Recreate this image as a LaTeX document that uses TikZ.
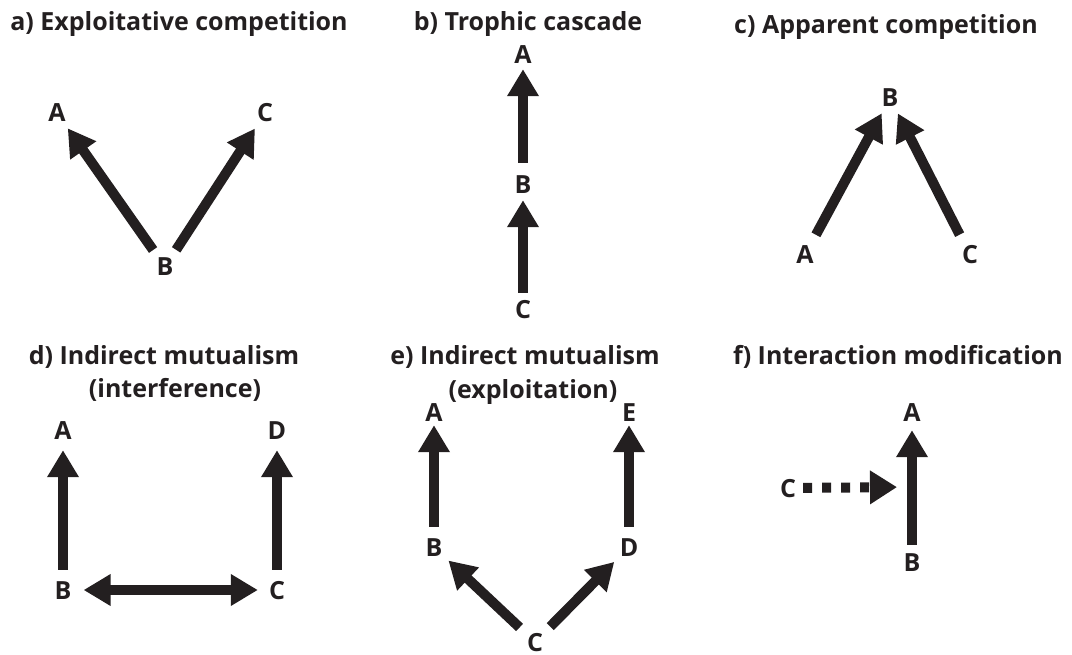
\documentclass[tikz,border=0pt]{standalone}
\usepackage{fontspec}
\setmainfont{Open Sans}
\usetikzlibrary{arrows.meta,calc}
\definecolor{ink}{RGB}{35,31,32}

\begin{document}
\begin{tikzpicture}[x=1pt, y=-1pt,
	every node/.style={text=ink, font=\bfseries\fontsize{25}{29}\selectfont},
	heading/.style={anchor=base},
	species/.style={inner sep=0pt, text height=18pt, text depth=0pt},
	eff/.style={draw=ink, line width=10pt, -{Triangle[length=27pt,width=30pt]}},
	twoway/.style={draw=ink, line width=10pt, {Triangle[length=27pt,width=30pt]}-{Triangle[length=27pt,width=30pt]}},
	modarrow/.style={draw=ink, line width=10pt, dash pattern=on 9pt off 10pt, -{Triangle[length=27pt,width=32pt]}}]

		\useasboundingbox (0,0) rectangle (1072,655);

		\node[heading] (T1) at (179,31) {a) Exploitative competition};
		\node[species] (A1) at (57,113) {A};
		\node[species] (B1) at (165,267) {B};
		\node[species] (C1) at (265,113) {C};

		\draw[eff, shorten <=9.5pt, shorten >=7.5pt] (B1) -- (A1);
		\draw[eff, shorten <=9.5pt, shorten >=7.5pt] (B1) -- (C1);

		\node[heading] (T2) at (528,31) {b) Trophic cascade};
		\node[species] (A2) at (523,55) {A};
		\node[species] (B2) at (523,185) {B};
		\node[species] (C2) at (523,310) {C};

		\draw[eff, shorten <=13pt, shorten >=5pt] (B2) -- (A2);
		\draw[eff, shorten <=8pt, shorten >=6pt] (C2) -- (B2);

		\node[heading] (T3) at (886,34) {c) Apparent competition};
		\node[species] (A3) at (805,255) {A};
		\node[species] (B3) at (890,98) {B};
		\node[species] (C3) at (970,255) {C};

		\draw[eff, shorten <=12.5pt, shorten >=7pt] (A3) -- (B3);
		\draw[eff, shorten <=12.5pt, shorten >=7pt] (C3) -- (B3);

		\node[heading] (T4) at (164,365) {d) Indirect mutualism};
		\node[heading] (T4b) at (175,397) {(interference)};
		\node[species] (A4) at (63,430) {A};
		\node[species] (B4) at (63,590) {B};
		\node[species] (C4) at (277,590) {C};
		\node[species] (D4) at (277,430) {D};

		\draw[eff, shorten <=11pt, shorten >=11pt] (B4) -- (A4);
		\draw[eff, shorten <=11pt, shorten >=11pt] (C4) -- (D4);
		\draw[twoway, shorten <=12pt, shorten >=11pt] (B4) -- (C4);

		\node[heading] (T5) at (525,365) {e) Indirect mutualism};
		\node[heading] (T5b) at (533,398) {(exploitation)};
		\node[species] (A5) at (434,412) {A};
		\node[species] (B5) at (434,547) {B};
		\node[species] (C5) at (535,642) {C};
		\node[species] (D5) at (629,547) {D};
		\node[species] (E5) at (629,412) {E};

		\draw[eff, shorten <=11pt, shorten >=4pt] (B5) -- (A5);
		\draw[eff, shorten <=11pt, shorten >=4pt] (D5) -- (E5);
		\draw[eff, shorten <=10pt, shorten >=8pt] (C5) -- (B5);
		\draw[eff, shorten <=10pt, shorten >=8pt] (C5) -- (D5);

		\node[heading] (T6) at (898,365) {f) Interaction modification};
		\node[species] (A6) at (912,412) {A};
		\node[species] (B6) at (912,562) {B};
		\node[species] (C6) at (788,488) {C};
		\coordinate (M6) at ($(B6)!0.5!(A6)$);

		\draw[eff, shorten <=8pt, shorten >=9pt] (B6) -- (A6);
		\draw[modarrow, shorten <=7pt, shorten >=15pt] (C6) -- (M6);

	\end{tikzpicture}
\end{document}
